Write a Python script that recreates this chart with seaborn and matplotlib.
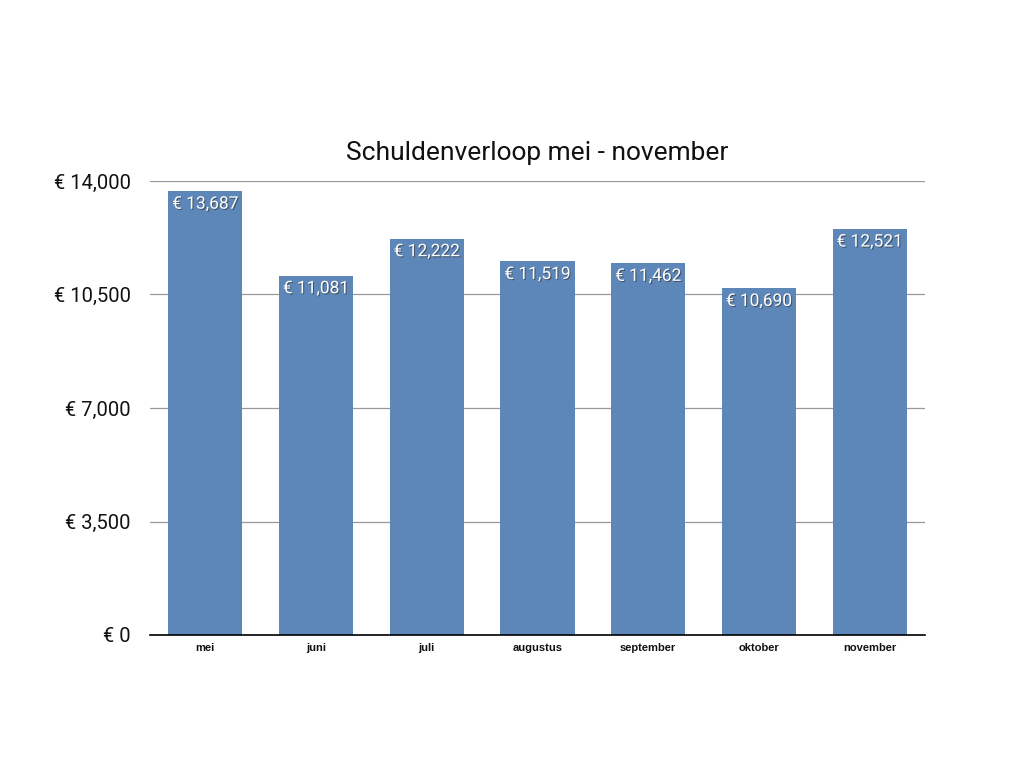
import matplotlib
matplotlib.use("Agg")
import matplotlib.pyplot as plt
import matplotlib.patheffects as pe
import seaborn as sns
import pandas as pd

months = ["mei", "juni", "juli", "augustus", "september", "oktober", "november"]
debt = [13687, 11081, 12222, 11519, 11462, 10690, 12521]
yticks = [0, 3500, 7000, 10500, 14000]

sns.set_theme(style="white")
plt.rcParams['font.family'] = ['Roboto', 'DejaVu Sans']

df = pd.DataFrame({"maand": months, "schuld": debt})

fig = plt.figure(figsize=(10.24, 7.68), dpi=100)
ax = fig.add_axes([150/1024, 1 - 635/768, 775/1024, (635-181)/768])

sns.barplot(data=df, x="maand", y="schuld", color="#5e87b9", saturation=1,
            width=0.67, ax=ax, zorder=3, linewidth=0, edgecolor="none")

ax.set_ylim(0, 14000)
ax.set_yticks(yticks)
ax.set_yticklabels([f"€ {v:,}" for v in yticks], fontsize=14.5, color="#111111")
ax.yaxis.grid(True, color="#999999", linewidth=0.9, zorder=0)
ax.set_axisbelow(True)
ax.tick_params(axis='y', length=0, pad=14)
ax.tick_params(axis='x', length=0, pad=6)
for lbl in ax.get_xticklabels():
    lbl.set_fontsize(8)
    lbl.set_fontweight("bold")
    lbl.set_family(["Liberation Sans", "DejaVu Sans"])
    lbl.set_color("#111111")
ax.set_xlabel("")
ax.set_ylabel("")
for s in ["top", "right", "left"]:
    ax.spines[s].set_visible(False)
ax.spines["bottom"].set_color("black")
ax.spines["bottom"].set_linewidth(1.2)
ax.spines["bottom"].set_zorder(4)
ax.set_xlim(-0.5, len(months) - 0.5)

for i, v in enumerate(debt):
    ax.annotate(f"€ {v:,}", (i, v), xytext=(0, -4), textcoords="offset points",
                ha="center", va="top", fontsize=12.5, color="white", zorder=5,
                path_effects=[pe.withSimplePatchShadow(offset=(0.8, -0.8),
                                                       shadow_rgbFace="#333333",
                                                       alpha=0.6)])

fig.text(537/1024, 1 - 153/768, "Schuldenverloop mei - november", ha="center",
         va="center", fontsize=19, color="#111111")

fig.savefig("out.png", dpi=100)
